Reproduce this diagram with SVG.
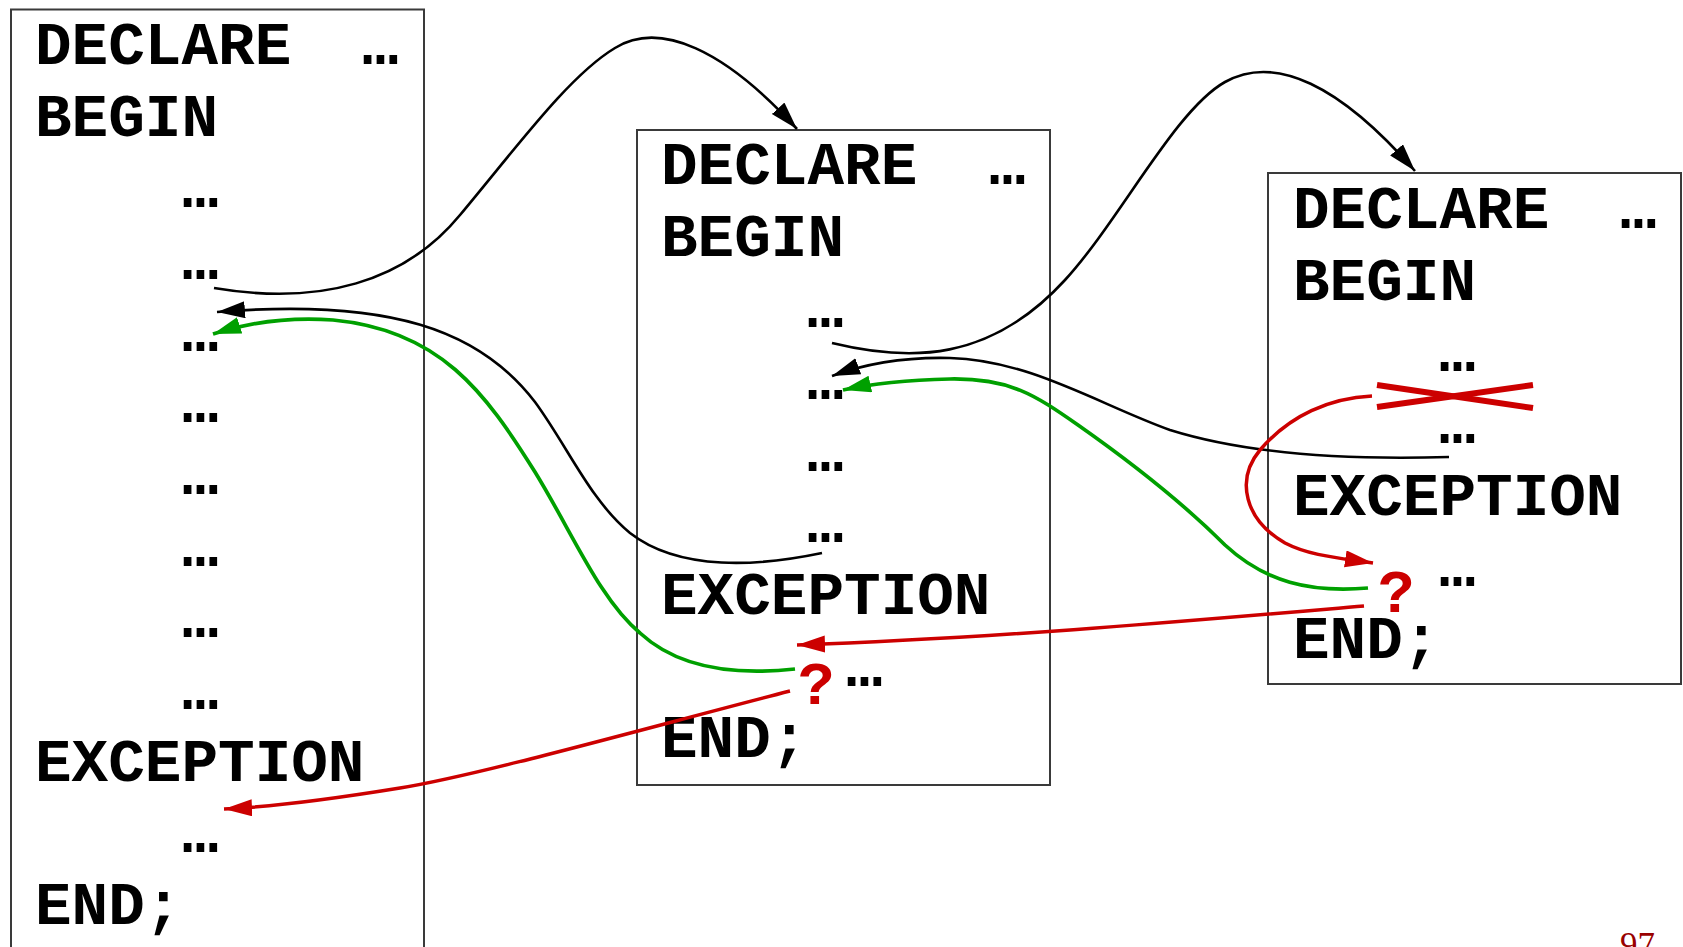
<svg xmlns="http://www.w3.org/2000/svg" width="1683" height="947" viewBox="0 0 1683 947">
<defs>
<style>
.box{fill:none;stroke:#3a3a3a;stroke-width:2}
.code{font-family:"Liberation Mono","DejaVu Sans Mono",monospace;font-weight:bold;font-size:61px;fill:#000}
.q{font-family:"Liberation Mono","DejaVu Sans Mono",monospace;font-weight:bold;font-size:61px;fill:#cc0000}
.blk{fill:none;stroke:#000;stroke-width:2.6}
.grn{fill:none;stroke:#00a000;stroke-width:3.7}
.red{fill:none;stroke:#cc0000;stroke-width:3.5}
.pg{font-family:"Liberation Serif",serif;font-size:35px;fill:#990000}
</style>
<marker id="ab" markerUnits="userSpaceOnUse" markerWidth="30" markerHeight="18" refX="28" refY="8.5" orient="auto" viewBox="0 0 30 18"><path d="M0,0 L28,8.5 L0,17 z" fill="#000"/></marker>
<marker id="ag" markerUnits="userSpaceOnUse" markerWidth="30" markerHeight="18" refX="28" refY="8.5" orient="auto" viewBox="0 0 30 18"><path d="M0,0 L28,8.5 L0,17 z" fill="#00a000"/></marker>
<marker id="ar" markerUnits="userSpaceOnUse" markerWidth="30" markerHeight="18" refX="28" refY="8.5" orient="auto" viewBox="0 0 30 18"><path d="M0,0 L28,8.5 L0,17 z" fill="#cc0000"/></marker>
</defs>
<rect width="1683" height="947" fill="#fff"/>

<g id="block1">
<rect class="box" x="11" y="9.5" width="413" height="960"/>
<text class="code" x="35" y="64">DECLARE</text>
<text class="code" x="362" y="64">…</text>
<text class="code" x="35" y="135.7">BEGIN</text>
<text class="code" x="182" y="207.3">…</text>
<text class="code" x="182" y="279">…</text>
<text class="code" x="182" y="350.7">…</text>
<text class="code" x="182" y="422.3">…</text>
<text class="code" x="182" y="494">…</text>
<text class="code" x="182" y="565.7">…</text>
<text class="code" x="182" y="637.3">…</text>
<text class="code" x="182" y="709">…</text>
<text class="code" x="35" y="780.7">EXCEPTION</text>
<text class="code" x="182" y="852.3">…</text>
<text class="code" x="35" y="924">END;</text>
</g>

<g id="block2">
<rect class="box" x="637" y="130" width="413" height="655"/>
<text class="code" x="661" y="184">DECLARE</text>
<text class="code" x="989" y="184">…</text>
<text class="code" x="661" y="255.7">BEGIN</text>
<text class="code" x="807" y="327.3">…</text>
<text class="code" x="807" y="399">…</text>
<text class="code" x="807" y="470.7">…</text>
<text class="code" x="807" y="542.3">…</text>
<text class="code" x="661" y="614">EXCEPTION</text>
<text class="q" x="798" y="704">?</text>
<text class="code" x="846" y="685.7">…</text>
<text class="code" x="661" y="757.3">END;</text>
</g>

<g id="block3">
<rect class="box" x="1268" y="173" width="413" height="511"/>
<text class="code" x="1293" y="228">DECLARE</text>
<text class="code" x="1620" y="228">…</text>
<text class="code" x="1293" y="299.7">BEGIN</text>
<text class="code" x="1439" y="371.3">…</text>
<line x1="1377" y1="385" x2="1533" y2="408" stroke="#cc0000" stroke-width="6"/>
<line x1="1377" y1="407" x2="1533" y2="385" stroke="#cc0000" stroke-width="6"/>
<text class="code" x="1439" y="443">…</text>
<text class="code" x="1293" y="514.7">EXCEPTION</text>
<text class="q" x="1378" y="611.7">?</text>
<text class="code" x="1439" y="586.3">…</text>
<text class="code" x="1293" y="658">END;</text>
</g>

<g id="connectors">
<path class="blk" marker-end="url(#ab)" d="M214,288 C320,306 405,282 460,215 C520,143 570,75 615,48 C660,20 725,50 797,129"/>
<path class="blk" marker-end="url(#ab)" d="M822,553 C760,566 680,572 630,533 C590,500 568,447 535,402 C480,330 390,298 217,312"/>
<path class="grn" marker-end="url(#ag)" d="M795,669 C740,675 680,670 640,633 C600,600 572,532 535,472 C485,392 440,330 333,320 C290,317 250,322 213,334"/>
<path class="red" marker-end="url(#ar)" d="M790,691 C650,727 480,775 400,788 S270,807 224,809"/>
<path class="blk" marker-end="url(#ab)" d="M832,343 C910,362 990,362 1065,280 C1120,220 1175,110 1225,82 C1275,54 1340,85 1415,171"/>
<path class="blk" marker-end="url(#ab)" d="M1449,457 C1350,460 1250,455 1170,430 C1100,405 1030,360 950,358 C910,357 870,362 832,376"/>
<path class="grn" marker-end="url(#ag)" d="M1368,588 C1310,593 1265,582 1225,545 C1180,500 1125,458 1078,425 C1035,395 1010,378 950,379 C910,380 875,383 843,390"/>
<path class="red" marker-end="url(#ar)" d="M1364,606 C1200,620 1000,638 797,645"/>
<path class="red" marker-end="url(#ar)" d="M1372,396 C1330,398 1290,415 1260,450 C1235,480 1245,520 1285,543 C1310,556 1340,558 1373,563"/>
</g>

<text class="pg" x="1620" y="957">97</text>
</svg>
